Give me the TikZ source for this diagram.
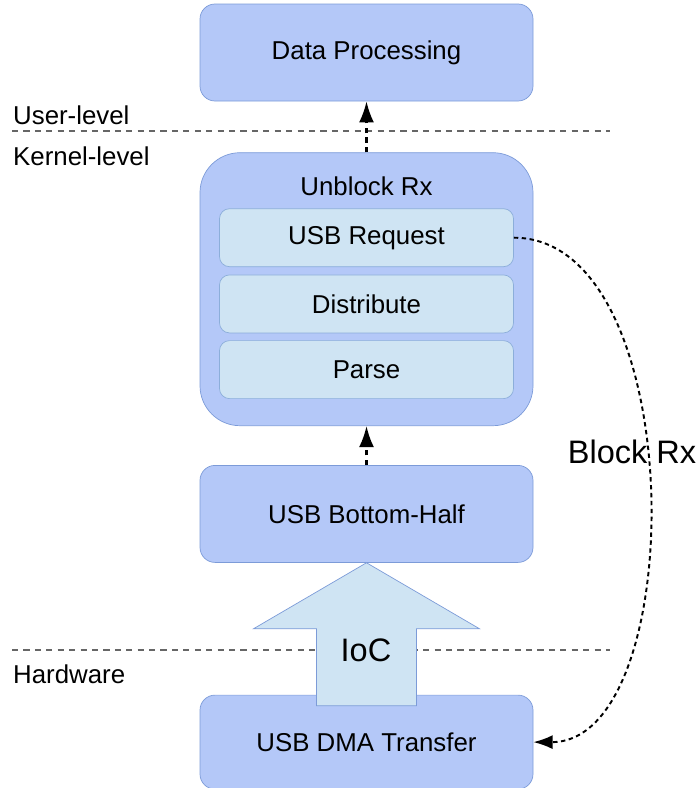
\documentclass[tikz,border=0pt]{standalone}
\usepackage{fontspec}
\setmainfont{Liberation Sans}
\usetikzlibrary{positioning,arrows.meta}

\definecolor{boxfill}{HTML}{B4C8F8}
\definecolor{boxline}{HTML}{7C9BD8}
\definecolor{stagefill}{HTML}{CFE4F3}
\definecolor{stageline}{HTML}{8CAEDA}
\definecolor{divline}{HTML}{666666}
\newcommand\boxtext{\fontsize{14.7}{17}\selectfont}
\newcommand\bigtext{\fontsize{18.5}{22}\selectfont}

\begin{document}
\begin{tikzpicture}[
    block/.style={rectangle,draw=boxline,fill=boxfill,rounded corners=0.3cm,
		minimum width=6.66cm,minimum height=1.94cm,font=\boxtext},
    stage/.style={rectangle,draw=stageline,fill=stagefill,rounded corners=0.2cm,
		minimum width=5.88cm,minimum height=1.16cm,font=\boxtext},
    tier/.style={anchor=west,font=\boxtext},
    divider/.style={draw=divline,thick,dash pattern=on 3.5pt off 3pt},
    flow/.style={very thick,dash pattern=on 3pt off 2.5pt,
		-{Latex[length=12pt,width=8.5pt]}},
    blockflow/.style={line width=1.1pt,dash pattern=on 2.5pt off 2pt,
		-{Latex[length=11pt,width=8pt]}}
]
    \useasboundingbox (0,0) rectangle (14,-15.76);

    % level dividers
    \draw[divider] (0.24,-2.62) -- (12.2,-2.62);
    \draw[divider] (0.24,-13.0) -- (12.2,-13.0);
    \node (user) [tier] at (0.14,-2.3) {User-level};
    \node (kernel) [tier] at (0.14,-3.12) {Kernel-level};
    \node (hw) [tier] at (0.14,-13.48) {Hardware};

    \node (dp) [block] at (7.33,-1.05) {Data Processing};
    \node (unblock) [block,minimum height=5.46cm,rounded corners=0.8cm,
	    below=1.02cm of dp] {};
    \node (title) [font=\boxtext] at ([yshift=-0.68cm]unblock.north) {Unblock Rx};
    \node (req) [stage,below=1.12cm of unblock.north] {USB Request};
    \node (dist) [stage,below=0.15cm of req] {Distribute};
    \node (parse) [stage,below=0.14cm of dist] {Parse};
    \node (bh) [block,below=0.78cm of unblock] {USB Bottom-Half};
    \node (dma) [block,minimum height=1.88cm,below=2.64cm of bh] {USB DMA Transfer};

    % interrupt on completion
    \draw[draw=boxline,fill=stagefill] (bh.south) -- ++(2.26,-1.32) -- ++(-1.26,0)
	    -- ++(0,-1.54) -- ++(-2,0) -- ++(0,1.54) -- ++(-1.26,0) -- cycle;
    \node (ioc) [font=\bigtext] at (7.32,-13.0) {IoC};

    \draw[flow] (unblock.north) -- (dp.south);
    \draw[flow] (bh.north) -- (unblock.south);
    \draw[blockflow] (req.east) .. controls +(3.54,0) and +(3.14,0) .. (dma.east);
    \node (blk) [font=\bigtext] at (12.64,-9.04) {Block Rx};
\end{tikzpicture}
\end{document}
